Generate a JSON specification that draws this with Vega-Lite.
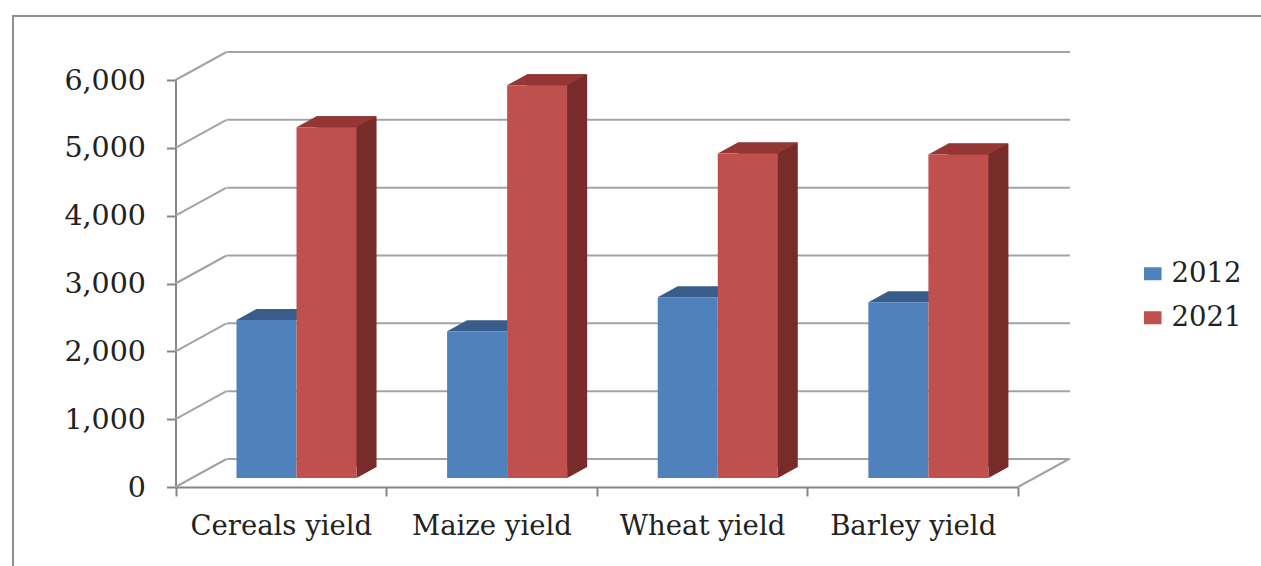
{
  "$schema": "https://vega.github.io/schema/vega-lite/v6.json",
  "autosize": "none",
  "padding": {"left": 13, "top": 16, "right": 0, "bottom": 0},
  "width": 1256,
  "height": 560,
  "view": {"stroke": "#8f8f8f", "strokeWidth": 2, "fill": "white"},
  "background": "white",
  "config": {"font": "DejaVu Serif"},
  "datasets": {
    "yields": [
      {"crop": "Cereals yield", "year": "2012", "value": 2330},
      {"crop": "Cereals yield", "year": "2021", "value": 5170},
      {"crop": "Maize yield", "year": "2012", "value": 2165},
      {"crop": "Maize yield", "year": "2021", "value": 5790},
      {"crop": "Wheat yield", "year": "2012", "value": 2665},
      {"crop": "Wheat yield", "year": "2021", "value": 4785},
      {"crop": "Barley yield", "year": "2012", "value": 2590},
      {"crop": "Barley yield", "year": "2021", "value": 4770}
    ],
    "levels": [
      {"level": 0}, {"level": 1000}, {"level": 2000}, {"level": 3000},
      {"level": 4000}, {"level": 5000}, {"level": 6000}
    ]
  },
  "resolve": {
    "scale": {"x": "independent", "xOffset": "independent"},
    "axis": {"x": "independent", "y": "independent"}
  },
  "layer": [
    {
      "data": {"name": "yields"},
      "mark": {"type": "bar", "opacity": 0},
      "encoding": {
        "x": {
          "field": "crop",
          "type": "nominal",
          "sort": null,
          "title": null,
          "scale": {
            "domain": ["Cereals yield", "Maize yield", "Wheat yield", "Barley yield"],
            "range": [162.5, 1005],
            "paddingInner": 0,
            "paddingOuter": 0
          },
          "axis": {
            "offset": -89,
            "orient": "bottom",
            "domainColor": "#868686",
            "domainWidth": 2,
            "tickColor": "#868686",
            "tickWidth": 2,
            "tickSize": 9,
            "tickBand": "extent",
            "labelAngle": 0,
            "labelFont": "DejaVu Serif",
            "labelFontSize": 27.5,
            "labelColor": "#222222",
            "labelPadding": 16,
            "labelLimit": 300
          }
        },
        "y": {
          "field": "value",
          "type": "quantitative",
          "stack": null,
          "title": null,
          "scale": {"domain": [0, 6000], "range": [471, 64]},
          "axis": {
            "offset": -162.5,
            "values": [0, 1000, 2000, 3000, 4000, 5000, 6000],
            "format": ",d",
            "grid": false,
            "domainColor": "#868686",
            "domainWidth": 2,
            "tickColor": "#868686",
            "tickWidth": 2,
            "tickSize": 9,
            "labelFont": "DejaVu Serif",
            "labelFontSize": 28.5,
            "labelColor": "#222222",
            "labelPadding": 21
          }
        }
      }
    },
    {
      "data": {"name": "levels"},
      "mark": {"type": "rule", "yOffset": -28, "color": "#a3a3a3", "strokeWidth": 2},
      "encoding": {
        "x": {"datum": 0, "type": "quantitative", "axis": null, "scale": {"domain": [0, 1], "range": [214, 1057]}},
        "x2": {"datum": 1},
        "y": {"field": "level", "type": "quantitative", "axis": null}
      }
    },
    {
      "data": {"name": "levels"},
      "mark": {"type": "point", "shape": "M0,0L51,-28", "filled": false, "stroke": "#a3a3a3", "strokeWidth": 2, "size": 4, "opacity": 1},
      "encoding": {
        "x": {"datum": 0, "type": "quantitative", "axis": null, "scale": {"domain": [0, 1], "range": [162.5, 1005]}},
        "y": {"field": "level", "type": "quantitative", "axis": null}
      }
    },
    {
      "data": {"values": [{"level": 0}]},
      "mark": {"type": "point", "shape": "M0,0L51,-28", "filled": false, "stroke": "#a3a3a3", "strokeWidth": 2, "size": 4, "opacity": 1},
      "encoding": {
        "x": {"datum": 1, "type": "quantitative", "axis": null, "scale": {"domain": [0, 1], "range": [162.5, 1005]}},
        "y": {"field": "level", "type": "quantitative", "axis": null}
      }
    },
    {
      "data": {"name": "yields"},
      "transform": [{"filter": "datum.year === '2021'"}],
      "mark": {"type": "bar", "color": "#772c2a", "yOffset": -20, "y2Offset": -20},
      "encoding": {
        "x": {
          "field": "crop",
          "type": "nominal",
          "sort": null,
          "axis": null,
          "scale": {
            "domain": ["Cereals yield", "Maize yield", "Wheat yield", "Barley yield"],
            "range": [198.2, 1040.7],
            "paddingInner": 0.43,
            "paddingOuter": 0.215
          }
        },
        "xOffset": {
          "field": "year",
          "type": "nominal",
          "scale": {"domain": ["2012", "2021"], "paddingInner": 0, "paddingOuter": 0}
        },
        "y": {"field": "value", "type": "quantitative", "axis": null},
        "y2": {"datum": 0}
      }
    },
    {
      "data": {"name": "yields"},
      "encoding": {
        "x": {
          "field": "crop",
          "type": "nominal",
          "sort": null,
          "axis": null,
          "scale": {
            "domain": ["Cereals yield", "Maize yield", "Wheat yield", "Barley yield"],
            "range": [178.2, 1020.7],
            "paddingInner": 0.43,
            "paddingOuter": 0.215
          }
        },
        "xOffset": {
          "field": "year",
          "type": "nominal",
          "scale": {"domain": ["2012", "2021"], "paddingInner": 0, "paddingOuter": 0}
        },
        "y": {"field": "value", "type": "quantitative", "axis": null}
      },
      "layer": [
        {
          "transform": [{"filter": "datum.year === '2021'"}],
          "mark": {"type": "point", "shape": "M30,0L30,-11L50,-11Z", "filled": true, "fill": "#772c2a", "strokeWidth": 0, "size": 4, "opacity": 1, "yOffset": -9},
          "encoding": {"y": {"datum": 0}}
        },
        {
          "transform": [{"filter": "datum.year === '2012'"}],
          "mark": {"type": "point", "shape": "M-30,0L30,0L50,-11L-10,-11Z", "filled": true, "fill": "#385d8a", "strokeWidth": 0, "size": 4, "opacity": 1, "yOffset": -9}
        },
        {
          "transform": [{"filter": "datum.year === '2021'"}],
          "mark": {"type": "point", "shape": "M-30,0L30,0L50,-11L-10,-11Z", "filled": true, "fill": "#943634", "strokeWidth": 0, "size": 4, "opacity": 1, "yOffset": -9}
        },
        {
          "mark": {"type": "bar", "yOffset": -9, "y2Offset": -9},
          "encoding": {
            "y2": {"datum": 0},
            "color": {
              "field": "year",
              "type": "nominal",
              "scale": {"domain": ["2012", "2021"], "range": ["#4f81bd", "#c0504d"]},
              "legend": {
                "title": null,
                "orient": "none",
                "legendX": 1126,
                "legendY": 244,
                "symbolType": "M-1.35,-1H1.35V1H-1.35Z",
                "symbolSize": 169,
                "symbolStrokeWidth": 0,
                "symbolOpacity": 1,
                "labelFont": "DejaVu Serif",
                "labelFontSize": 27.5,
                "labelColor": "#222222",
                "labelOffset": 5,
                "rowPadding": 15
              }
            }
          }
        }
      ]
    }
  ]
}
